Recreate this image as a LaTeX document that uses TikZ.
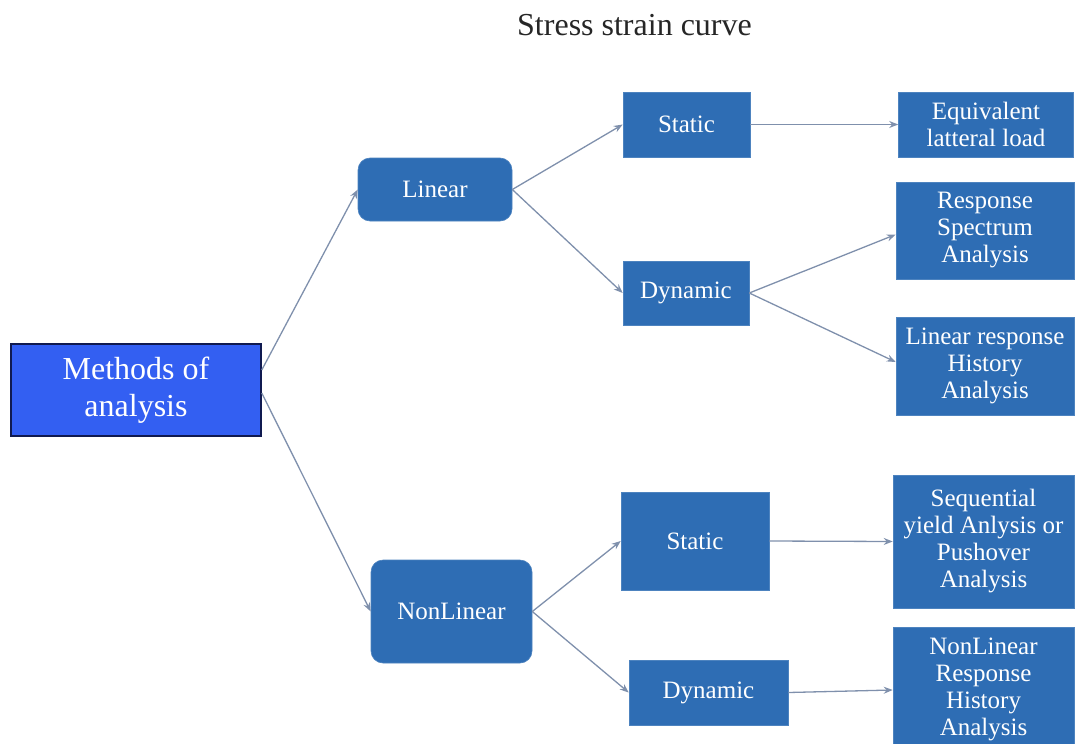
\documentclass[tikz,border=0pt]{standalone}
\usepackage{fontspec}
\setmainfont{Liberation Serif}
\usetikzlibrary{arrows.meta}
\definecolor{boxblue}{HTML}{2E6DB4}
\definecolor{rootblue}{HTML}{335FF2}
\definecolor{rootedge}{HTML}{101A50}
\definecolor{arrowgray}{HTML}{7F90AC}
\begin{document}
\begin{tikzpicture}[x=1pt,y=-1pt,
  box/.style={rectangle, fill=boxblue, draw=boxblue!85!white, line width=0.6pt, text=white, align=center, inner sep=0pt, font=\fontsize{25}{27}\selectfont},
  rbox/.style={box, rounded corners=12pt},
  conn/.style={draw=arrowgray, line width=1.3pt, -{Stealth[length=9pt,width=7pt]}}]
\useasboundingbox (0,0) rectangle (1076,744);
\clip (0,0) rectangle (1076,744);
\node[anchor=base, font=\fontsize{32}{36}\selectfont, text=black!85, inner sep=0pt] (title) at (634.5,35) {Stress strain curve};
% root
\node[rectangle, fill=rootblue, draw=rootedge, line width=1.5pt, text=white, align=center, inner sep=0pt, font=\fontsize{32}{37}\selectfont, minimum width=250pt, minimum height=92pt] (methods) at (136,390) {Methods of\\analysis};
% level 1
\node[rbox, minimum width=154pt, minimum height=63pt] (linear) at (435,189.5) {Linear};
\node[rbox, minimum width=161pt, minimum height=103pt] (nonlinear) at (451.5,611.5) {NonLinear};
% level 2
\node[box, minimum width=127pt, minimum height=65pt] (static1) at (686.5,124.5) {Static};
\node[box, minimum width=126pt, minimum height=64pt] (dynamic1) at (686,293) {Dynamic};
\node[box, minimum width=148pt, minimum height=98pt] (static2) at (695,541) {Static};
\node[box, minimum width=159pt, minimum height=65pt] (dynamic2) at (708.5,692.5) {Dynamic};
% level 3
\node[box, minimum width=175pt, minimum height=65pt] (equiv) at (986,124.5) {Equivalent\\latteral load};
\node[box, minimum width=178pt, minimum height=97pt] (resp) at (985,230.5) {Response\\Spectrum\\Analysis};
\node[box, minimum width=178pt, minimum height=98pt] (linresp) at (985,366) {Linear response\\History\\Analysis};
\node[box, minimum width=181pt, minimum height=133pt] (seq) at (983.5,541.5) {Sequential\\yield Anlysis or\\Pushover\\Analysis};
\node[box, minimum width=181pt, minimum height=124pt] (nlresp) at (983.5,689) {NonLinear\\Response\\History\\Analysis};
% connectors
\draw[conn] ([yshift=20pt]methods.east) -- (linear.west);
\draw[conn] ([yshift=-3pt]methods.east) -- (nonlinear.west);
\draw[conn] (linear.east) -- (static1.west);
\draw[conn] (linear.east) -- (dynamic1.west);
\draw[conn] (nonlinear.east) -- (static2.west);
\draw[conn] (nonlinear.east) -- (dynamic2.west);
\draw[conn] (static1.east) -- (equiv.west);
\draw[conn] (dynamic1.east) -- ([yshift=-4pt]resp.west);
\draw[conn] (dynamic1.east) -- ([yshift=4pt]linresp.west);
\draw[conn] (static2.east) -- (seq.west);
\draw[conn] (dynamic2.east) -- ([yshift=-1pt]nlresp.west);
\end{tikzpicture}
\end{document}
